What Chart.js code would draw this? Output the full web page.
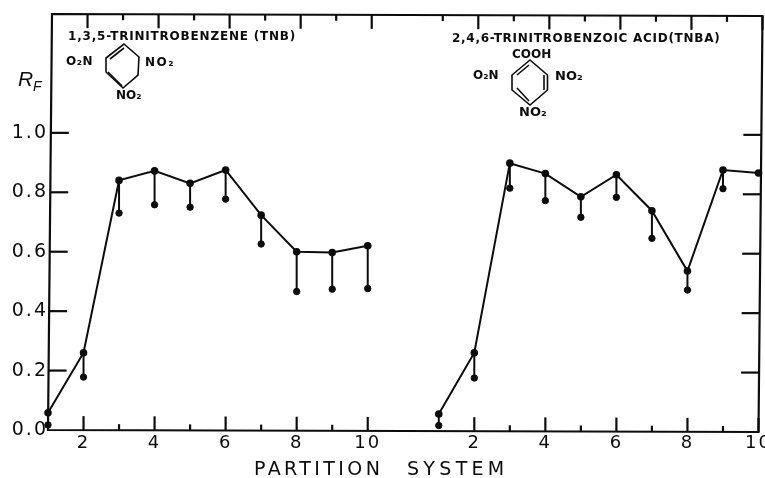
<!DOCTYPE html>
<html>
<head>
<meta charset="utf-8">
<title>Rf vs partition system</title>
<script src="https://cdn.jsdelivr.net/npm/chart.js@4/dist/chart.umd.min.js"></script>
<style>
  html, body { margin: 0; padding: 0; background: #fff; }
  canvas { display: block; }
</style>
</head>
<body>
<canvas id="myChart" width="765" height="478"></canvas>
<script>
const systems = [1, 2, 3, 4, 5, 6, 7, 8, 9, 10];
const tnbTop = [0.058, 0.26, 0.84, 0.872, 0.83, 0.875, 0.723, 0.6, 0.597, 0.62];
const tnbLow = [0.017, 0.178, 0.73, 0.758, 0.75, 0.777, 0.626, 0.466, 0.474, 0.476];
const tnbaTop = [0.054, 0.26, 0.898, 0.863, 0.785, 0.859, 0.738, 0.535, 0.875, 0.865];
const tnbaLow = [0.015, 0.175, 0.814, 0.772, 0.716, 0.783, 0.645, 0.471, 0.812, null];
const yTicks = [0, 0.2, 0.4, 0.6, 0.8, 1.0];
const xTicks = [2, 4, 6, 8, 10];

// second panel shares the x axis, shifted along by this many units
const panelShift = 11;
const ink = "#0c0c0c";
const axisFont = "DejaVu Sans";

function points(xs, ys, shift) {
  return xs.map((x, i) => ({ x: x + shift, y: ys[i] })).filter((p) => p.y !== null);
}

// one dataset for all stems, NaN breaks the line between them
function stems(xs, top, low, shift) {
  const out = [];
  xs.forEach((x, i) => {
    if (low[i] === null) return;
    out.push({ x: x + shift, y: low[i] }, { x: x + shift, y: top[i] }, { x: x + shift, y: NaN });
  });
  return out;
}

function topLine(label, data) {
  return { label, data, borderColor: ink, backgroundColor: ink, borderWidth: 2, pointRadius: 2.8, tension: 0, clip: false };
}
function stemLine(label, data) {
  return { label, data, borderColor: ink, borderWidth: 2, pointRadius: 0, spanGaps: false, clip: false };
}
function lowDots(label, data) {
  return { label, data, showLine: false, backgroundColor: ink, borderColor: ink, pointRadius: 3.2, clip: false };
}

function text(ctx, str, x, y, font, spacing) {
  ctx.save();
  ctx.font = font;
  ctx.letterSpacing = spacing || "0px";
  ctx.fillStyle = ink;
  ctx.textAlign = "left";
  ctx.textBaseline = "middle";
  ctx.fillText(str, x, y);
  ctx.restore();
}

function polyline(ctx, pts, closed) {
  ctx.beginPath();
  pts.forEach((p, i) => (i ? ctx.lineTo(p[0], p[1]) : ctx.moveTo(p[0], p[1])));
  if (closed) ctx.closePath();
  ctx.stroke();
}

// the scan sits slightly rotated: frame is pushed by a few px per corner
const frameAndNotes = {
  id: "frameAndNotes",
  beforeDraw(chart) {
    chart.ctx.letterSpacing = "2px";
  },
  afterDraw(chart) {
    const ctx = chart.ctx;
    const a = chart.chartArea;
    const xs = chart.scales.x;
    const ys = chart.scales.y;
    const skew = 4;
    const drop = 2;
    const lx = (py) => a.left + (skew * (a.bottom - py)) / (a.bottom - a.top);
    const rx = (py) => lx(py) + (a.right - a.left);
    const by = (px) => a.bottom + (drop * (px - a.left)) / (a.right - a.left);
    const ty = (px) => by(px) - (a.bottom - a.top);

    ctx.save();
    ctx.strokeStyle = ink;
    ctx.lineWidth = 2.2;
    ctx.letterSpacing = "0px";
    polyline(ctx, [
      [lx(a.top), ty(a.left)],
      [rx(a.top), ty(a.right)],
      [rx(a.bottom), by(a.right)],
      [lx(a.bottom), by(a.left)],
    ], true);

    // inward ticks, even systems longer
    for (let v = 2; v <= 21; v++) {
      if (v === 11 || v === 12) continue;
      const sys = v > 11 ? v - panelShift : v;
      const len = sys % 2 === 0 ? 14 : 6;
      const px = xs.getPixelForValue(v);
      polyline(ctx, [[px, by(px)], [px, by(px) - len]]);
      polyline(ctx, [[px + skew, ty(px)], [px + skew, ty(px) + len]]);
    }
    const oneTop = xs.getPixelForValue(12);
    polyline(ctx, [[oneTop + skew, ty(oneTop)], [oneTop + skew, ty(oneTop) + 6]]);
    yTicks.slice(1).forEach((v) => {
      const py = ys.getPixelForValue(v);
      polyline(ctx, [[lx(py), py], [lx(py) + 18, py]]);
      polyline(ctx, [[rx(py), py + 2], [rx(py) - 18, py + 2]]);
    });

    // ring structures
    ctx.lineWidth = 1.6;
    polyline(ctx, [[124, 44], [139, 57], [138, 75], [123, 88], [106, 72], [106, 58]], true);
    polyline(ctx, [[110, 59], [124, 48]]);
    polyline(ctx, [[108, 72], [122, 86]]);
    polyline(ctx, [[530, 60], [547.5, 75], [547.5, 90], [530, 105], [512, 90], [512, 75]], true);
    polyline(ctx, [[517, 75], [529, 65]]);
    polyline(ctx, [[544, 75], [544, 90]]);
    polyline(ctx, [[517, 88], [529, 101]]);
    ctx.restore();

    const small = "bold 12px " + axisFont;
    text(ctx, "1,3,5-TRINITROBENZENE (TNB)", 68, 37, small, "0.8px");
    text(ctx, "2,4,6-TRINITROBENZOIC ACID(TNBA)", 452, 38.5, small, "0.72px");
    text(ctx, "O\u2082N", 66, 62, small, "0.5px");
    text(ctx, "NO\u2082", 145, 63, small, "1.5px");
    text(ctx, "NO\u2082", 116, 96, small);
    text(ctx, "COOH", 512, 55, small);
    text(ctx, "O\u2082N", 473, 76, small);
    text(ctx, "NO\u2082", 555, 77, "bold 13px " + axisFont);
    text(ctx, "NO\u2082", 519, 113, "bold 13px " + axisFont);
    text(ctx, "R", 18, 80, "italic 21px " + "Liberation Sans");
    text(ctx, "F", 33, 87, "italic 14px " + "Liberation Sans");
    text(ctx, "PARTITION", 254, 470, "19px " + axisFont, "3.4px");
    text(ctx, "SYSTEM", 407, 470, "19px " + axisFont, "4.3px");
  },
};

const data = {
  datasets: [
    topLine("TNB solvent front", points(systems, tnbTop, 0)),
    stemLine("TNB range", stems(systems, tnbTop, tnbLow, 0)),
    lowDots("TNB lower", points(systems, tnbLow, 0)),
    topLine("TNBA solvent front", points(systems, tnbaTop, panelShift)),
    stemLine("TNBA range", stems(systems, tnbaTop, tnbaLow, panelShift)),
    lowDots("TNBA lower", points(systems, tnbaLow, panelShift)),
  ],
};

const config = {
  type: "line",
  data: data,
  plugins: [frameAndNotes],
  options: {
    responsive: false,
    animation: false,
    layout: { padding: { top: 14, right: 6.5, bottom: 0, left: 0 } },
    plugins: { legend: { display: false }, title: { display: false }, tooltip: { enabled: false } },
    scales: {
      x: {
        type: "linear",
        min: 1,
        max: 21,
        grid: { display: false, tickLength: 0 },
        border: { display: false },
        afterBuildTicks: (scale) => {
          const all = xTicks.concat(xTicks.map((t) => t + panelShift));
          scale.ticks = all.map((value) => ({ value }));
        },
        afterFit: (scale) => {
          scale.height = 48;
          scale.paddingLeft = 0;
          scale.paddingRight = 0;
        },
        ticks: {
          autoSkip: false,
          maxRotation: 0,
          padding: 3,
          color: ink,
          font: { family: axisFont, size: 18 },
          callback: (value) => (value > 11 ? value - panelShift : value),
        },
      },
      y: {
        min: 0,
        max: 1.4,
        grid: { display: false, tickLength: 0 },
        border: { display: false },
        afterBuildTicks: (scale) => {
          scale.ticks = yTicks.map((value) => ({ value }));
        },
        afterFit: (scale) => {
          scale.width = 48;
        },
        ticks: {
          padding: 0,
          color: ink,
          font: { family: axisFont, size: 19 },
          callback: (value) => value.toFixed(1),
        },
      },
    },
  },
};

const myChart = new Chart(document.getElementById("myChart").getContext("2d"), config);
</script>
</body>
</html>
